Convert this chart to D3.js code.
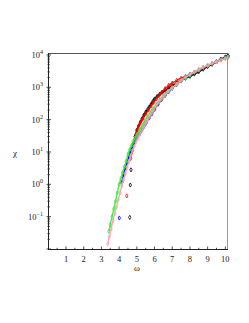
<!DOCTYPE html>
<html><head><meta charset="utf-8">
<script src="https://cdn.jsdelivr.net/npm/d3@7"></script>
<style>body{margin:0;background:#fff}svg{display:block}</style>
</head><body>
<svg id="c" width="249" height="323"></svg>
<script>
// [omega, chi]
const blackSeries = [[4.70,10],[4.80,18],[4.90,30],[5.00,47],[5.10,63],[5.20,83],[5.30,107],[5.40,138],[5.50,170],[5.60,204],[5.70,245],[5.80,295],[5.90,363],[6.00,437],[6.15,525],[6.30,617],[6.45,708],[6.60,794],[6.80,955],[7.00,1122],[7.25,1349],[7.50,1622],[7.75,1905],[8.00,2188],[8.25,2570],[8.50,3020],[8.75,3631],[9.00,4365],[9.25,5129],[9.50,6166],[9.75,7413],[10.00,8710],[10.15,9550]];
const blackOutliers = [[4.67,2.8],[4.63,0.95],[4.60,0.095]];
const redSeries = [[4.65,6.3],[4.75,11],[4.85,20],[4.95,35],[5.05,52],[5.15,71],[5.25,91],[5.35,112],[5.50,151],[5.65,200],[5.80,263],[5.95,339],[6.10,437],[6.25,550],[6.40,692],[6.60,912],[6.80,1148],[7.00,1349],[7.25,1622],[7.50,1905],[7.75,2188],[8.00,2512],[8.25,2951],[8.50,3467],[8.75,4074],[9.00,4677],[9.25,5370],[9.50,6166],[9.75,7079],[10.00,7943],[10.15,8511]];
const redOutliers = [[4.43,0.44]];
const blueSeries = [[4.15,1.12],[4.25,2.0],[4.35,3.2],[4.45,4.8],[4.55,7.2],[4.65,10.5],[4.75,14.5],[4.85,19],[4.95,24.5],[5.05,30],[5.15,36],[5.25,45],[5.35,55],[5.45,68],[5.55,83],[5.70,112],[5.85,150],[6.00,205],[6.20,300],[6.40,420],[6.60,560],[6.80,730],[7.00,930],[7.25,1220],[7.50,1560],[7.75,2000],[8.00,2450],[8.50,3400],[9.00,4571],[9.50,6166],[10.00,8318],[10.15,9120]];
const blueOutliers = [[4.01,0.091]];
const greenSeries = [[3.42,0.035],[3.50,0.056],[3.60,0.10],[3.70,0.174],[3.80,0.30],[3.90,0.55],[4.00,1.0],[4.10,1.5],[4.20,2.3],[4.30,3.5],[4.40,5.2],[4.50,8.7],[4.60,12],[4.70,16],[4.80,21],[4.90,27],[5.00,34],[5.15,47],[5.30,66],[5.45,91],[5.60,123],[5.75,162],[5.90,214],[6.10,295],[6.30,407],[6.50,537],[6.75,741],[7.00,977],[7.25,1259],[7.50,1585],[7.75,1950],[8.00,2399],[8.50,3388],[9.00,4677],[9.50,6166],[10.00,8128],[10.15,8710]];
const pinkSeries = [[3.35,0.014],[3.45,0.024],[3.55,0.042],[3.65,0.076],[3.75,0.126],[3.85,0.20],[3.95,0.33],[4.05,0.54],[4.15,0.89],[4.25,1.38],[4.35,2.1],[4.45,3.3],[4.55,5.0],[4.65,7.6],[4.75,11],[4.85,15],[4.95,20],[5.05,26],[5.15,34],[5.25,43],[5.35,54],[5.45,68],[5.55,85],[5.65,107],[5.75,132],[5.85,162],[5.95,195],[6.10,263],[6.25,347],[6.40,447],[6.60,589],[6.80,759],[7.00,955],[7.25,1259],[7.50,1622],[7.75,2089],[8.00,2512],[8.25,2951],[8.50,3548],[8.75,4169],[9.00,4786],[9.25,5495],[9.50,6166],[9.75,6918],[10.00,7762],[10.15,8318]];
const xTicks = [1,2,3,4,5,6,7,8,9,10];
const yExponents = [-1,0,1,2,3,4];
const xLabel = "ω", yLabel = "χ";

const series = [
  {data: blackSeries, out: blackOutliers, color: "#000000"},
  {data: redSeries, out: redOutliers, color: "#ff0000"},
  {data: blueSeries, out: blueOutliers, color: "#0000ff"},
  {data: greenSeries, out: [], color: "#33ee33"},
  {data: pinkSeries, out: [], color: "#f5a3ae"}
];

const svg = d3.select("#c");
const x = d3.scaleLinear().domain([0, 10.15]).range([48.3, 228]);
const y = d3.scaleLog().domain([0.01, 11500]).range([249, 53]);
const font = "'Liberation Serif','DejaVu Serif',serif";

// frame
svg.append("line").attr("x1",x.range()[0]).attr("x2",x.range()[1]).attr("y1",53.5).attr("y2",53.5).attr("stroke","#555").attr("stroke-width",1);
svg.append("line").attr("x1",227.5).attr("x2",227.5).attr("y1",53).attr("y2",249).attr("stroke","#999").attr("stroke-width",1);

const plot = svg.append("g");
const line = d3.line().x(d=>x(d[0])).y(d=>y(d[1])).curve(d3.curveMonotoneX);
const diamond = d3.symbol().type(d3.symbolDiamond).size(5);
series.forEach(s=>{
  plot.append("path").attr("d", line(s.data)).attr("fill","none").attr("stroke", s.color).attr("stroke-width",1.4).attr("stroke-opacity",0.9);
  plot.selectAll(null).data(s.data.concat(s.out)).enter().append("path")
    .attr("d", diamond).attr("transform", d=>`translate(${x(d[0])},${y(d[1])})`)
    .attr("fill","none").attr("stroke", s.color).attr("stroke-width",0.8);
});

// axes
svg.append("line").attr("x1",48.5).attr("x2",48.5).attr("y1",53).attr("y2",249.5).attr("stroke","#222");
svg.append("line").attr("x1",48).attr("x2",228).attr("y1",249.5).attr("y2",249.5).attr("stroke","#222");

// x ticks
const xMinor = d3.range(0.5, 10.2, 0.5);
svg.selectAll(null).data(xMinor).enter().append("line")
  .attr("x1",d=>x(d)).attr("x2",d=>x(d)).attr("y1",249.5).attr("y2",d=>Number.isInteger(d)?246.5:247.8).attr("stroke","#222").attr("stroke-width",0.8);
svg.selectAll(null).data(xTicks).enter().append("text")
  .attr("x",d=>x(d)).attr("y",262).attr("text-anchor","middle").attr("font-family",font).attr("font-size",8.5).attr("fill","#222").text(d=>d);

// y ticks
const yMinor = [];
for (let e=-2; e<=4; e++) for (let m=1; m<=9; m++) { const v=m*Math.pow(10,e); if (v<=11500 && v>=0.01) yMinor.push(v); }
const isMajor = d=>Math.abs(Math.log10(d)-Math.round(Math.log10(d)))<1e-9;
svg.selectAll(null).data(yMinor).enter().append("line")
  .attr("x1",d=>isMajor(d)?46.5:47.5).attr("x2",d=>isMajor(d)?51:49.8)
  .attr("y1",d=>y(d)).attr("y2",d=>y(d)).attr("stroke","#222").attr("stroke-width",0.8);
const yl = svg.selectAll(null).data(yExponents).enter().append("text")
  .attr("x",43).attr("y",d=>y(Math.pow(10,d))+3).attr("text-anchor","end").attr("font-family",font).attr("font-size",8.5).attr("fill","#222");
yl.append("tspan").text("10");
yl.append("tspan").attr("dy",-4).attr("font-size",6).text(d=>d<0?"−"+(-d):d);

svg.append("text").attr("x",137).attr("y",271).attr("text-anchor","middle").attr("font-family",font).attr("font-size",9).attr("fill","#222").text(xLabel);
svg.append("text").attr("x",15).attr("y",156).attr("text-anchor","middle").attr("font-family",font).attr("font-size",9).attr("fill","#222").text(yLabel);
</script>
</body></html>
